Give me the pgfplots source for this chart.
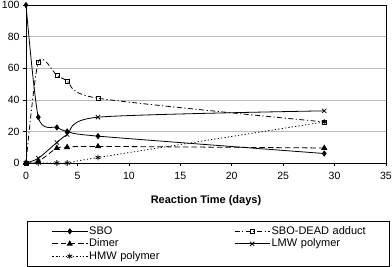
\documentclass[border=0pt]{standalone}
\usepackage{pgfplots}
\pgfplotsset{compat=1.18}
\usepackage{fontspec}
\setmainfont{Liberation Sans}
\begin{document}
\begin{tikzpicture}[x=1pt,y=1pt]
\begin{axis}[
  at={(0pt,0pt)}, anchor=south west,
  width=360pt, height=158pt, scale only axis,
  xmin=0, xmax=35, ymin=0, ymax=100,
  xtick={0,5,...,35}, ytick={0,20,...,100},
  tick align=outside, tick pos=left,
  major tick length=3pt,
  ymajorgrids, grid style={gray!55, line width=0.6pt},
  axis line style={line width=0.8pt},
  tick style={black, line width=0.6pt},
  /pgf/number format/assume math mode=true,
  ticklabel style={font=\fontsize{10.5}{12}\selectfont},
  xticklabel style={yshift=-3pt},
  xlabel={\textbf{Reaction Time (days)}},
  xlabel style={font=\fontsize{11}{13}\selectfont, anchor=center, at={(axis description cs:0.5,-0.24)}},
  legend columns=2,
  legend cell align=left,
  legend style={draw=black, line width=0.6pt, at={(axis description cs:0.0028,-0.367)}, anchor=north west,
    font=\fontsize{11}{12}\selectfont, inner xsep=4pt, inner ysep=4.75pt,
    row sep=2pt,
    nodes={inner xsep=1.5pt, inner ysep=0pt, text height=8pt, text depth=2.5pt},
    /tikz/column 2/.style={text width=123pt},
    /tikz/column 4/.style={text width=112pt}},
  legend image code/.code={\path[draw=none] (0pt,0pt) -- (21pt,0pt);\draw[mark repeat=2,mark phase=2] plot coordinates {(21pt,0pt)(38.5pt,0pt)(56pt,0pt)};},
  every axis plot/.append style={black, line width=0.8pt, smooth, tension=0.45},
  mark options={solid},
]
\addplot[mark=diamond*, mark size=2.5pt] coordinates {(0,100)(1.2,29)(3,22.5)(4,20)(7,17)(29,6)};
\addlegendentry{SBO}
\addplot[dash pattern=on 5pt off 2.5pt on 1.2pt off 2.5pt, mark=square, mark size=2pt, mark options={solid, line width=0.6pt}] coordinates {(0,0)(1.2,64)(3,55.5)(4,52)(7,41)(29,26)};
\addlegendentry{SBO-DEAD adduct}
\addplot[dash pattern=on 5.5pt off 3pt, mark=triangle*, mark size=2.8pt] coordinates {(0,0)(1.2,1)(3,9.5)(4,10)(7,10.5)(29,9.5)};
\addlegendentry{Dimer}
\addplot[mark=x, mark size=3pt] coordinates {(0,0)(1.2,3)(3,13)(4,18)(7,29)(29,33)};
\addlegendentry{LMW polymer}
\addplot[dash pattern=on 1.2pt off 2.2pt, mark=asterisk, mark size=2.8pt] coordinates {(0,0)(1.2,0)(3,0)(4,0)(7,3.5)(29,26)};
\addlegendentry{HMW polymer}
\end{axis}
\pgfresetboundingbox
\path (-26pt,-103pt) rectangle (366pt,163pt);
\end{tikzpicture}
\end{document}
